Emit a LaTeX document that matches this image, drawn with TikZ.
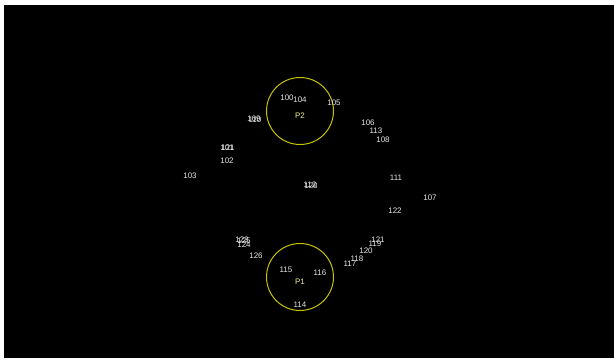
\documentclass[tikz,border=0pt]{standalone}
\usepackage{fontspec}
\setmainfont{Liberation Sans}
\definecolor{lbl}{RGB}{230,230,230}
\definecolor{ring}{RGB}{200,195,0}
\begin{document}
\begin{tikzpicture}[x=1bp,y=-1bp,
  num/.style={text=lbl,font=\fontsize{8}{9}\selectfont,inner sep=0pt},
  pnum/.style={text=lbl!60!yellow,font=\fontsize{8}{9}\selectfont,inner sep=0pt},
  ringc/.style={draw=ring,line width=1pt,circle,minimum size=67bp,inner sep=0pt}]
\useasboundingbox (0,0) rectangle (614,361);
\fill[white] (0,0) rectangle (614,361);
\fill[black] (4,5) rectangle (614,358);
% rings
\node[ringc] (ring2) at (300,111) {};
\node[ringc] (ring1) at (300,277) {};
\node[pnum] (p2) at (300,116) {P2};
\node[pnum] (p1) at (300,282) {P1};
% labels
\node[num] (n100) at (287,98) {100};
\node[num] (n104) at (300,100) {104};
\node[num] (n105) at (334,103) {105};
\node[num] (n109) at (254,119) {109};
\node[num] (n110) at (255,120) {110};
\node[num] (n101) at (227,148) {101};
\node[num] (n127) at (228,148) {121};
\node[num] (n102) at (227,161) {102};
\node[num] (n103) at (190,176) {103};
\node[num] (n106) at (368,123) {106};
\node[num] (n113) at (376,131) {113};
\node[num] (n108) at (383,140) {108};
\node[num] (n111) at (396,178) {111};
\node[num] (n107) at (430,198) {107};
\node[num] (n122) at (395,211) {122};
\node[num] (n112) at (310,185) {112};
\node[num] (n128) at (311,186) {128};
\node[num] (n123) at (242,240) {123};
\node[num] (n125) at (244,241) {125};
\node[num] (n124) at (244,245) {124};
\node[num] (n126) at (256,256) {126};
\node[num] (n121) at (378,240) {121};
\node[num] (n119) at (375,244) {119};
\node[num] (n120) at (366,251) {120};
\node[num] (n118) at (357,259) {118};
\node[num] (n117) at (350,264) {117};
\node[num] (n115) at (286,270) {115};
\node[num] (n116) at (320,273) {116};
\node[num] (n114) at (300,305) {114};
\end{tikzpicture}
\end{document}
